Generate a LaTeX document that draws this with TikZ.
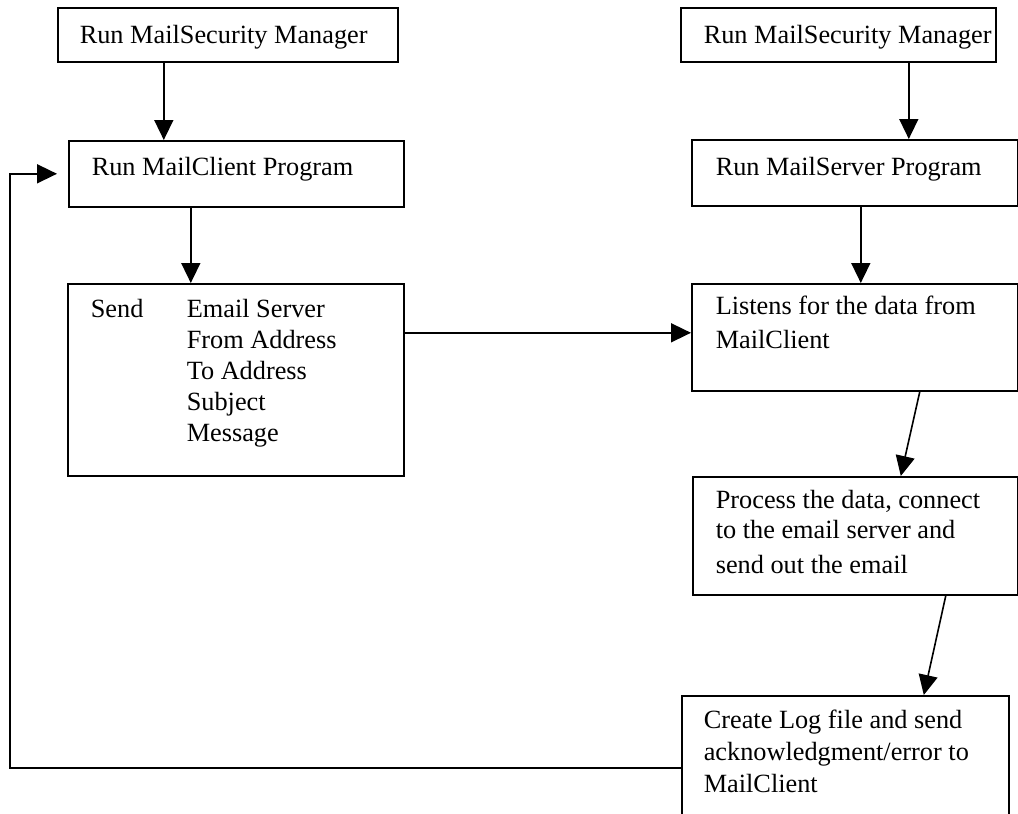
\documentclass[tikz,border=0pt]{standalone}
\usepackage{fontspec}
\setmainfont{Liberation Serif}
\usetikzlibrary{arrows.meta}
\tikzset{
  flowbox/.style={draw, line width=1.6pt, anchor=north west, inner ysep=0pt, inner xsep=23pt,
    align=flush left, font=\fontsize{26.3}{31}\selectfont},
  flow/.style={line width=1.6pt, -{Triangle[length=20pt,width=19pt]}}
}
\begin{document}
\begin{tikzpicture}[x=1pt,y=-1pt]
\clip (0,0) rectangle (1018,814);
\node[flowbox, inner xsep=22pt, text width=296pt, text height=36pt, text depth=18pt] (secleft) at (57,7) {\mbox{Run MailSecurity Manager}};
\node[flowbox, text width=289pt, text height=35pt, text depth=31pt] (client) at (68,140) {Run MailClient Program};
\node[flowbox, text width=290pt, text height=34pt, text depth=158pt] (sendbox) at (67,283)
  {\begin{tabular}[t]{@{}p{96pt}@{}l@{}}
   Send & Email Server\\ & From Address\\ & To Address\\ & Subject\\ & Message
   \end{tabular}};
\node[flowbox, text width=269pt, text height=36pt, text depth=18pt] (secright) at (680,7) {\mbox{Run MailSecurity Manager}};
\node[flowbox, inner xsep=24pt, text width=278pt, text height=36pt, text depth=30pt] (server) at (691,139) {Run MailServer Program};
\node[flowbox, inner xsep=24pt, text width=278pt, text height=31pt, text depth=76pt] (listen) at (691,283) {Listens for the data from\\[3pt]MailClient};
\node[flowbox, text width=279pt, text height=32pt, text depth=86pt] (process) at (692,476)
  {\mbox{Process the data, connect}\\[-1pt]to the email server and\\[4pt]send out the email};
\node[flowbox, inner xsep=22pt, text width=283pt, text height=33pt, text depth=111pt] (logbox) at (681,695)
  {Create Log file and send\\[1pt]acknowledgment/error to\\[1pt]MailClient};

\draw[flow] ([xshift=-64pt]secleft.south) coordinate (t1) -- (t1 |- client.north);
\draw[flow] ([xshift=-45.5pt]client.south) coordinate (t2) -- (t2 |- sendbox.north);
\coordinate (inport) at ([yshift=4.5pt]listen.west);
\draw[flow] (sendbox.east |- inport) -- (inport);
\draw[flow] ([xshift=70.5pt]secright.south) coordinate (t3) -- (t3 |- server.north);
\draw[flow] ([xshift=6pt]server.south) coordinate (t4) -- (t4 |- listen.north);
\draw[flow] ([xshift=65pt]listen.south) -- ([xshift=45.5pt]process.north);
\draw[flow] ([xshift=90.5pt]process.south) -- ([xshift=78.5pt]logbox.north);
\coordinate (back) at (10,0);
\draw[flow] (logbox.west) -- (logbox.west -| back) |- ([xshift=-11pt]client.west);
\end{tikzpicture}
\end{document}
